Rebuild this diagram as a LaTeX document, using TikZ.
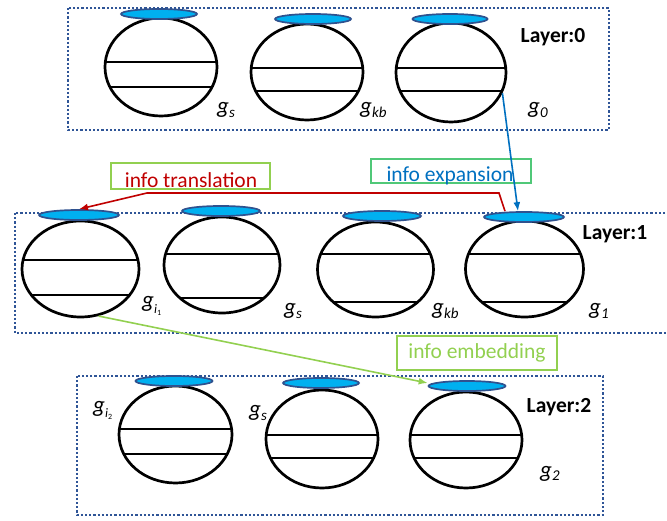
\documentclass[tikz,border=0pt]{standalone}
\usepackage{fontspec}
\setmainfont{Carlito}
\usetikzlibrary{shapes.geometric,arrows.meta}

\definecolor{boxblue}{RGB}{47,85,151}
\definecolor{capfill}{RGB}{0,176,240}
\definecolor{capedge}{RGB}{47,82,143}
\definecolor{transred}{RGB}{192,0,0}
\definecolor{expblue}{RGB}{0,112,192}
\definecolor{expgreen}{RGB}{80,200,120}
\definecolor{embgreen}{RGB}{146,208,80}

\tikzset{
  layerbox/.style={draw=boxblue, line width=2.2pt, dash pattern=on 2.2pt off 2pt},
  cell/.style={ellipse, draw=black, line width=2.7pt, inner sep=0pt},
  chord/.style={line width=2pt, black},
  lid/.style={ellipse, fill=capfill, draw=capedge, line width=1.7pt, inner sep=0pt, minimum height=10pt},
  glabel/.style={anchor=base west, inner sep=0pt, font=\fontsize{23}{26}\selectfont\itshape},
  layerlabel/.style={font=\fontsize{21.5}{24}\selectfont\bfseries},
  tagbox/.style={draw, line width=1.1pt, inner sep=0pt},
  tagtext/.style={font=\fontsize{21.5}{24}\selectfont, inner sep=0pt},
  flow/.style={line width=1.6pt, -{Latex[length=9pt,width=7pt]}},
}

% \cellnode{name}{cx}{cy}{rx}{ry}{chord y 1}{chord y 2}
\newcommand\cellnode[7]{%
  \node[cell, minimum width={2*#4pt}, minimum height={2*#5pt},
    path picture={
      \draw[chord] ([yshift={(#3-#6)*1pt}]path picture bounding box.west) -- ([yshift={(#3-#6)*1pt}]path picture bounding box.east);
      \draw[chord] ([yshift={(#3-#7)*1pt}]path picture bounding box.west) -- ([yshift={(#3-#7)*1pt}]path picture bounding box.east);
    }] (#1) at (#2,#3) {};}
\newcommand\sub[1]{\raisebox{-0.35ex}{\fontsize{15}{16}\selectfont #1}}
\newcommand\subsub[2]{\raisebox{-0.5ex}{\fontsize{13}{14}\selectfont\rmfamily\itshape #1\raisebox{-0.35ex}{\fontsize{8}{9}\selectfont\upshape #2}}}

\begin{document}
\begin{tikzpicture}[x=1pt, y=-1pt]
\useasboundingbox (0,0) rectangle (667,521);

% layer frames
\draw[layerbox] (68,8) rectangle (609,130);
\draw[layerbox] (15,213) rectangle (680,333);
\draw[layerbox] (77,376) rectangle (603,515);

% layer 0
\cellnode{A}{161}{67}{56}{49}{62}{87}
\cellnode{B}{307}{72}{56}{48}{68}{91}
\cellnode{C}{451}{72.5}{55}{49.5}{68}{91}
\node[lid, minimum width=76pt] (capA) at (159,14) {};
\node[lid, minimum width=76pt] (capB) at (313,19) {};
\node[lid, minimum width=75pt] (capC) at (450,19) {};
\node[glabel] (lA) at (217,114) {g\sub{s}};
\node[glabel] (lB) at (360,114) {g\sub{kb}};
\node[glabel] (lC) at (528,114) {g\sub{0}};
\node[layerlabel] (L0) at (553,37) {Layer:0};

% layer 1
\cellnode{D}{80.5}{269}{58.5}{48}{260}{295}
\cellnode{E}{222}{265}{58}{48}{254}{298}
\cellnode{F}{375.5}{269.5}{58}{47.5}{254}{302}
\cellnode{G}{524.5}{269}{59}{48}{254}{302}
\node[lid, minimum width=80pt] (capD) at (79,215) {};
\node[lid, minimum width=78pt] (capE) at (221,211) {};
\node[lid, minimum width=78pt] (capF) at (382,216) {};
\node[lid, minimum width=80pt] (capG) at (524,217) {};
\node[glabel] (lD) at (142,308) {g\subsub{i}{1}};
\node[glabel] (lE) at (284,315) {g\sub{s}};
\node[glabel] (lF) at (432,315) {g\sub{kb}};
\node[glabel] (lG) at (589,315) {g\sub{1}};
\node[layerlabel] (L1) at (615,234) {Layer:1};

% layer 2
\cellnode{H}{175.5}{434.5}{56.5}{48.5}{429}{454}
\cellnode{I}{322}{439}{56}{49}{435}{458}
\cellnode{J}{466}{440}{56}{48}{435}{458}
\node[lid, minimum width=77pt] (capH) at (174,381) {};
\node[lid, minimum width=76pt] (capI) at (321,383) {};
\node[lid, minimum width=77pt] (capJ) at (467,386) {};
\node[glabel] (lH) at (93,412) {g\subsub{i}{2}};
\node[glabel] (lI) at (249,417) {g\sub{s}};
\node[glabel] (lJ) at (540,477) {g\sub{2}};
\node[layerlabel] (L2) at (559,407) {Layer:2};

% tags
\node[tagbox, draw=embgreen, minimum width=159pt, minimum height=26pt] (transBox) at (190.5,176) {};
\node[tagtext, text=transred] (transText) at (191,180) {info translation};
\node[tagbox, draw=expgreen, minimum width=160pt, minimum height=24pt] (expBox) at (451,171) {};
\node[tagtext, text=expblue] (expText) at (450,176) {info expansion};
\node[tagbox, draw=embgreen, minimum width=160pt, minimum height=34pt] (embBox) at (477,353) {};
\node[tagtext, text=embgreen] (embText) at (477,353) {info embedding};

% flows between layers
\coordinate (trA) at (499,193);
\coordinate (trB) at (147,193);
\draw[flow, transred] ([xshift=-19pt]capG.north) -- (trA) -- (trB) -- (capD.north);
\draw[flow, expblue] (C.-22) -- ([xshift=-6pt]capG.north);
\draw[flow, embgreen] (D.-69) -- ([yshift=3pt]capJ.west);
\end{tikzpicture}
\end{document}
